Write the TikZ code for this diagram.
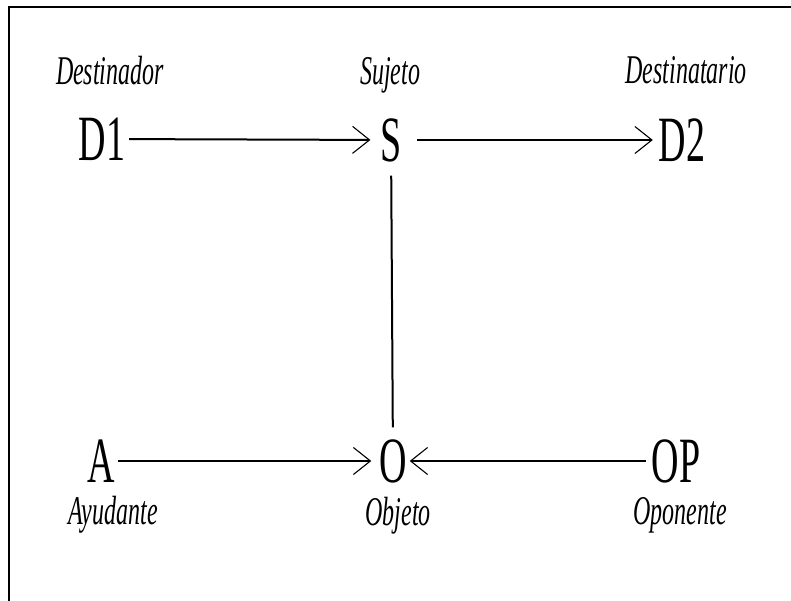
\documentclass[tikz,border=0pt]{standalone}
\usepackage{fontspec}
\setmainfont{Liberation Serif}
\usepackage{graphicx}
\usetikzlibrary{arrows.meta}

\newcommand{\alto}[1]{\scalebox{1}[1.7]{#1}}

\tikzset{
  letra/.style={inner sep=0pt, outer sep=0pt, font=\fontsize{38}{38}\selectfont},
  rol/.style={inner sep=0pt, font=\itshape\fontsize{24}{24}\selectfont},
  flecha/.style={line width=2pt, -{Straight Barb[length=17pt,width=27pt,line width=1.1pt]}},
}

\begin{document}
\begin{tikzpicture}[x=1pt,y=-1pt]
		\useasboundingbox (0,0) rectangle (791,601);
		\draw [line width=2.4pt] (9,601) -- (9,7) -- (791,7);
		\node [rol] (destinador) at (110,71) {\alto{Destinador}};
		\node [rol] (sujeto) at (390,75) {\alto{Sujeto}};
		\node [rol] (destinatario) at (686,70) {\alto{Destinatario}};
		\node [letra] (d1) at (102,139) {\alto{D1}};
		\node [letra] (s) at (391,140) {\alto{S}};
		\node [letra] (d2) at (682,140) {\alto{D2}};
		\node [letra] (a) at (101,461) {\alto{A}};
		\node [letra] (o) at (393,461) {\alto{O}};
		\node [letra] (op) at (676,461) {\alto{OP}};
		\node [rol] (ayudante) at (113,515) {\alto{Ayudante}};
		\node [rol] (objeto) at (398,516) {\alto{Objeto}};
		\node [rol] (oponente) at (680,515) {\alto{Oponente}};
		\draw [flecha, shorten <=4pt, shorten >=10pt] (d1) -- (s);
		\draw [flecha, shorten <=15pt, shorten >=6pt] (s) -- (d2);
		\draw [line width=2pt, shorten <=14pt, shorten >=12pt] (s) -- (o);
		\draw [flecha, shorten <=3pt, shorten >=8pt] (a) -- (o);
		\draw [flecha, shorten <=6pt, shorten >=3pt] (op) -- (o);
	\end{tikzpicture}
\end{document}
